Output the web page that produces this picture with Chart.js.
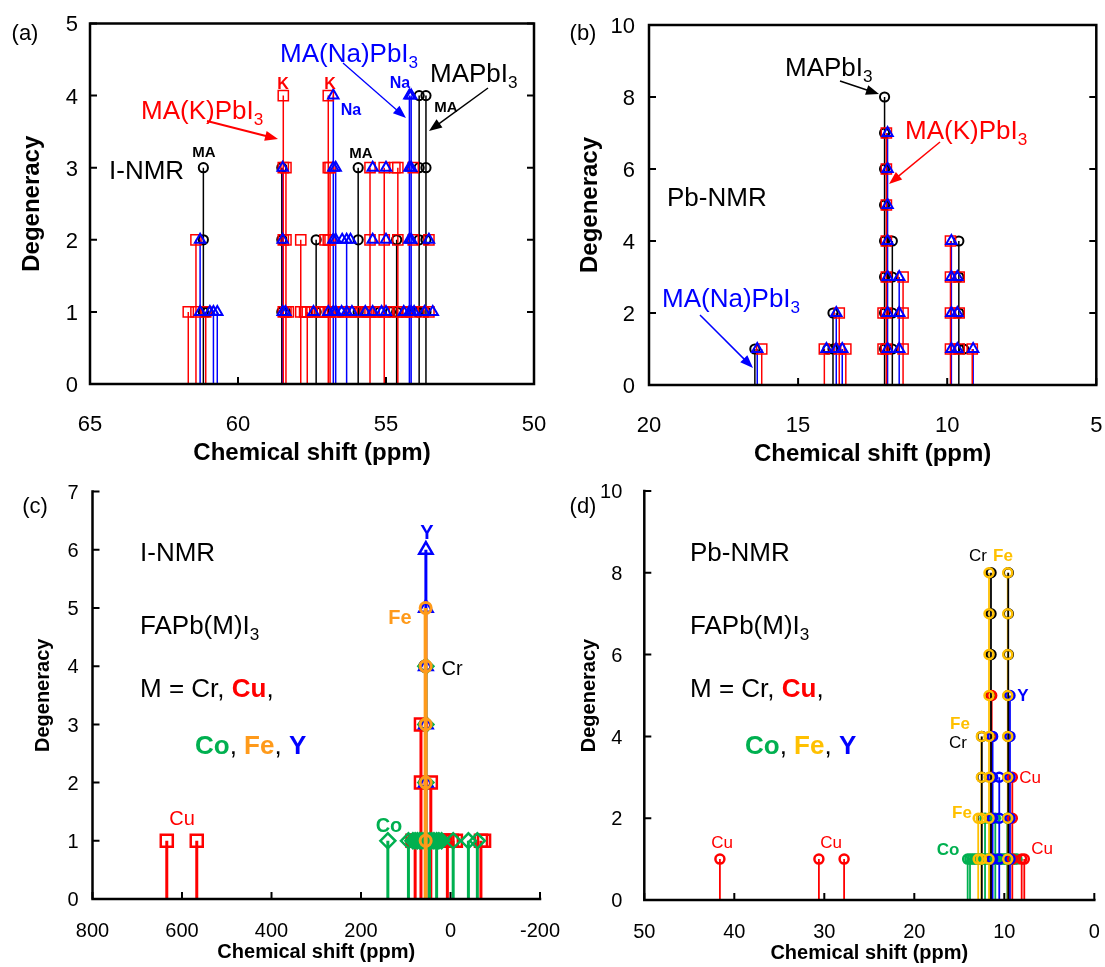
<!DOCTYPE html>
<html>
<head>
<meta charset="utf-8">
<script src="https://cdn.jsdelivr.net/npm/chart.js@4.4.0/dist/chart.umd.min.js"></script>
<style>
  body { margin: 0; background: #fff; }
  #wrap { position: relative; width: 1105px; height: 967px; }
  #wrap canvas { position: absolute; left: 0; top: 0; }
</style>
</head>
<body>
<div id="wrap">
  <canvas id="pa" width="1105" height="967"></canvas>
  <canvas id="pb" width="1105" height="967"></canvas>
  <canvas id="pc" width="1105" height="967"></canvas>
  <canvas id="pd" width="1105" height="967"></canvas>
</div>
<script>
// ---------- (a) I-NMR : MAPbI3 / MA(K)PbI3 / MA(Na)PbI3 ----------
const aTicksX = [65, 60, 55, 50];
const aTicksY = [0, 1, 2, 3, 4, 5];
const aMAx = [61.17, 58.52, 57.36, 55.94, 54.64, 53.88, 53.65];
const aMAh = [3, 3, 2, 3, 2, 4, 4];
const aMAdotX = [61.02, 58.40, 56.80, 56.55, 55.75, 55.20, 54.85, 54.30, 53.95];
const aMAdotY = [1, 1, 1, 1, 1, 1, 1, 1, 1];
const aKx = [61.68, 61.42, 61.09, 58.47, 58.38, 57.88, 57.66, 56.95, 56.89, 55.54, 55.06, 54.60];
const aKh = [1, 2, 1, 4, 3, 2, 1, 4, 3, 3, 3, 3];
const aKdotX = [58.30, 57.75, 57.50, 57.25, 57.15, 57.06, 57.06, 56.60, 56.45, 56.20, 56.05, 55.80, 55.65, 55.40, 55.25, 54.90, 54.45, 54.30, 54.08, 54.08, 54.08, 53.75, 53.55, 53.55, 54.70];
const aKdotY = [1, 1, 1, 1, 1, 1, 2, 1, 1, 1, 1, 1, 1, 1, 1, 1, 1, 1, 1, 2, 3, 1, 1, 2, 3];
const aNaX = [61.28, 60.83, 60.70, 58.49, 56.78, 56.70, 56.33, 54.21, 54.15];
const aNah = [2, 1, 1, 3, 4, 3, 2, 4, 4];
const aNadotX = [60.95, 58.40, 57.45, 56.95, 56.50, 56.48, 56.15, 56.20, 55.70, 55.45, 55.45, 55.45, 55.15, 55.00, 55.00, 55.00, 54.40, 54.05, 53.70, 53.55, 53.42];
const aNadotY = [1, 1, 1, 1, 1, 2, 1, 2, 1, 1, 2, 3, 1, 1, 2, 3, 1, 1, 1, 2, 1];

// ---------- (b) Pb-NMR ----------
const bTicksX = [20, 15, 10, 5];
const bTicksY = [0, 2, 4, 6, 8, 10];
const bMAx = [16.45, 13.83, 12.10, 11.84, 9.61];
const bMAh = [1, 2, 8, 4, 4];
const bMAdotX = [14.00, 9.45];
const bMAdotY = [1, 1];
const bKx = [16.22, 14.12, 13.62, 13.40, 12.04, 11.48, 9.89, 9.16];
const bKh = [1, 1, 2, 1, 7, 3, 4, 1];
const bKdotX = [9.60, 9.60, 9.60, 12.15, 12.15];
const bKdotY = [1, 2, 3, 1, 2];
const bNax = [16.37, 13.72, 13.52, 12.00, 11.61, 9.86, 9.13];
const bNah = [1, 2, 1, 7, 3, 4, 1];
const bNadotX = [14.05, 9.66, 9.66, 9.66];
const bNadotY = [1, 1, 2, 3];

// ---------- (c) I-NMR FAPb(M)I3 ----------
const cTicksX = [800, 600, 400, 200, 0, -200];
const cTicksY = [0, 1, 2, 3, 4, 5, 6, 7];
const cCrX = [57];
const cCrH = [4];
const cCuX = [634, 567, 79, 66, 44, 7, -68];
const cCuH = [1, 1, 1, 3, 2, 1, 1];
const cCudotX = [85, 74, 60, 52, 36, 28, 18, 12, -3, -12, -75];
const cCudotY = [1, 1, 1, 1, 1, 1, 1, 1, 1, 1, 1];
const cCoX = [140, 94, 55, 47, 31, -6, -40, -60];
const cCoH = [1, 1, 4, 1, 1, 1, 1, 1];
const cCodotX = [84, 79, 74, 69, 64, 59, 52, 42, 37, 26, 20];
const cCodotY = [1, 1, 1, 1, 1, 1, 1, 1, 1, 1, 1];
const cFeX = [55.5];
const cFeH = [5];
const cYX = [55];
const cYH = [6];

// ---------- (d) Pb-NMR FAPb(M)I3 ----------
const dTicksX = [50, 40, 30, 20, 10, 0];
const dTicksY = [0, 2, 4, 6, 8, 10];
const dCrX = [12.5, 11.48, 9.56];
const dCrH = [4, 8, 8];
const dFeX = [12.9, 12.55, 11.7, 9.62];
const dFeH = [2, 4, 8, 8];
const dCuX = [41.6, 30.6, 27.8, 11.4, 9.11, 8.07, 7.78];
const dCuH = [1, 1, 1, 5, 3, 1, 1];
const dYX = [11.3, 10.56, 9.37];
const dYH = [4, 3, 5];
const dCoX = [14.07, 13.81, 12.14, 11.6, 11.0, 9.67];
const dCoH = [1, 1, 2, 2, 2, 2];
const dCodotX = [13.55, 13.3, 13.05, 12.8, 12.55, 12.3, 11.85, 11.3, 10.75, 10.5, 10.25, 10.0, 9.8, 9.4, 9.15, 8.9, 8.6];
const dCodotY = [1, 1, 1, 1, 1, 1, 1, 1, 1, 1, 1, 1, 1, 1, 1, 1, 1];

const W = 1105, H = 967;
const FONT = '"Liberation Sans", Arial, sans-serif';
const RED = '#ff0000', BLUE = '#0000ff', BLACK = '#000000', GREEN = '#00b050';
const ORANGE = '#ff9a1a', GOLD = '#ffc000';

function stemData(xs, hs) {
  const d = [];
  xs.forEach((x, i) => { d.push({x: x, y: 0}, {x: x, y: hs[i]}, {x: x, y: null}); });
  return d;
}
function markData(xs, hs, dx, dy) {
  const d = [];
  xs.forEach((x, i) => { for (let k = 1; k <= hs[i]; k++) d.push({x: x, y: k}); });
  (dx || []).forEach((x, i) => d.push({x: x, y: dy[i]}));
  return d;
}
function stems(xs, hs, color, w) {
  return { type: 'line', data: stemData(xs, hs), borderColor: color, borderWidth: w,
    pointRadius: 0, spanGaps: false, fill: false, tension: 0 };
}
function marks(xs, hs, dx, dy, color, style, r, bw) {
  return { type: 'scatter', data: markData(xs, hs, dx, dy), pointStyle: style,
    pointRadius: r, pointHoverRadius: r, borderColor: color,
    backgroundColor: 'rgba(0,0,0,0)', borderWidth: bw };
}

// text helpers
function rich(ctx, x, y, parts, size, align, weight) {
  ctx.save();
  ctx.textBaseline = 'alphabetic';
  const base = y + size * 0.36;
  let total = 0;
  parts.forEach(p => {
    const s = p[2] === 'sub' ? size * 0.66 : size;
    ctx.font = (p[3] || weight || 'normal') + ' ' + s + 'px ' + FONT;
    total += ctx.measureText(p[0]).width;
  });
  let cx = align === 'center' ? x - total / 2 : (align === 'right' ? x - total : x);
  parts.forEach(p => {
    const sub = p[2] === 'sub';
    const s = sub ? size * 0.66 : size;
    ctx.font = (p[3] || weight || 'normal') + ' ' + s + 'px ' + FONT;
    ctx.fillStyle = p[1];
    ctx.textAlign = 'left';
    ctx.fillText(p[0], cx, sub ? base + size * 0.22 : base);
    cx += ctx.measureText(p[0]).width;
  });
  ctx.restore();
}
function label(ctx, s, x, y, color, size, weight) {
  rich(ctx, x, y, [[s, color]], size, 'center', weight);
}
function arrow(ctx, x1, y1, x2, y2, color, w) {
  const ang = Math.atan2(y2 - y1, x2 - x1), hl = 13, hw = 5;
  ctx.save();
  ctx.strokeStyle = color; ctx.fillStyle = color; ctx.lineWidth = w;
  ctx.beginPath();
  ctx.moveTo(x1, y1);
  ctx.lineTo(x2 - Math.cos(ang) * hl * 0.8, y2 - Math.sin(ang) * hl * 0.8);
  ctx.stroke();
  ctx.beginPath();
  ctx.moveTo(x2, y2);
  ctx.lineTo(x2 - Math.cos(ang) * hl + Math.sin(ang) * hw, y2 - Math.sin(ang) * hl - Math.cos(ang) * hw);
  ctx.lineTo(x2 - Math.cos(ang) * hl - Math.sin(ang) * hw, y2 - Math.sin(ang) * hl + Math.cos(ang) * hw);
  ctx.closePath();
  ctx.fill();
  ctx.restore();
}

// frame, inward ticks, tick labels and titles
function axes(c, o) {
  const ctx = c.ctx, a = c.chartArea, sx = c.scales.x, sy = c.scales.y;
  ctx.save();
  ctx.strokeStyle = BLACK;
  ctx.lineWidth = 2.5;
  ctx.lineCap = 'square';
  ctx.beginPath();
  if (o.box) {
    ctx.rect(a.left, a.top, a.right - a.left, a.bottom - a.top);
  } else {
    ctx.moveTo(a.left, a.top);
    ctx.lineTo(a.left, a.bottom);
    ctx.lineTo(a.right, a.bottom);
  }
  ctx.stroke();
  ctx.lineWidth = 2;
  ctx.lineCap = 'butt';
  ctx.beginPath();
  o.tx.forEach(t => {
    const p = sx.getPixelForValue(t);
    ctx.moveTo(p, a.bottom); ctx.lineTo(p, a.bottom - 7);
  });
  o.ty.forEach(t => {
    const p = sy.getPixelForValue(t);
    ctx.moveTo(a.left, p); ctx.lineTo(a.left + 7, p);
    if (o.box) { ctx.moveTo(a.right, p); ctx.lineTo(a.right - 7, p); }
  });
  ctx.stroke();
  ctx.restore();
  o.tx.forEach(t => rich(ctx, sx.getPixelForValue(t), a.bottom + o.xGap, [[String(t), BLACK]], o.tickSize, 'center'));
  o.ty.forEach(t => rich(ctx, a.left - o.yGap, sy.getPixelForValue(t), [[String(t), BLACK]], o.tickSize, 'right'));
  rich(ctx, (a.left + a.right) / 2 + (o.xtOff || 0), a.bottom + o.xtGap, [['Chemical shift (ppm)', BLACK]], o.titleSize, 'center', 'bold');
  ctx.save();
  ctx.translate(o.ytX, (a.top + a.bottom) / 2);
  ctx.rotate(-Math.PI / 2);
  rich(ctx, 0, 0, [['Degeneracy', BLACK]], o.titleSize, 'center', 'bold');
  ctx.restore();
  rich(ctx, o.tag[1], o.tag[2], [[o.tag[0], BLACK]], o.tagSize, 'center');
}

function panel(id, area, xr, yr, datasets, deco) {
  new Chart(document.getElementById(id), {
    type: 'scatter',
    data: { datasets: datasets },
    options: {
      responsive: false,
      animation: false,
      events: [],
      layout: { padding: { left: area[0], top: area[1], right: W - area[2], bottom: H - area[3] } },
      plugins: { legend: { display: false }, tooltip: { enabled: false } },
      scales: {
        x: { type: 'linear', min: Math.min(xr[0], xr[1]), max: Math.max(xr[0], xr[1]), reverse: true, display: false },
        y: { type: 'linear', min: yr[0], max: yr[1], display: false }
      }
    },
    plugins: [{ id: 'deco', afterDraw: deco }]
  });
}

// (a)
panel('pa', [90, 23.5, 534, 384], [65, 50], [0, 5], [
  marks(aNaX, aNah, aNadotX, aNadotY, BLUE, 'triangle', 6, 2),
  marks(aKx, aKh, aKdotX, aKdotY, RED, 'rect', 7.2, 1.5),
  marks(aMAx, aMAh, aMAdotX, aMAdotY, BLACK, 'circle', 4.6, 2),
  stems(aKx, aKh, RED, 1.5),
  stems(aNaX, aNah, BLUE, 1.5),
  stems(aMAx, aMAh, BLACK, 1.5)
], c => {
  const ctx = c.ctx;
  axes(c, { box: true, tx: aTicksX, ty: aTicksY, tickSize: 22, xGap: 39, yGap: 12,
    titleSize: 24, xtGap: 67, ytX: 30, tag: ['(a)', 25, 32], tagSize: 22 });
  rich(ctx, 109, 170, [['I-NMR', BLACK]], 26, 'left');
  rich(ctx, 141, 110, [['MA(K)PbI', RED], ['3', RED, 'sub']], 26, 'left');
  arrow(ctx, 207, 121, 278, 139, RED, 2);
  label(ctx, 'K', 283, 83, RED, 16, 'bold');
  label(ctx, 'K', 330, 83, RED, 16, 'bold');
  rich(ctx, 280, 53, [['MA(Na)PbI', BLUE], ['3', BLUE, 'sub']], 26, 'left');
  arrow(ctx, 343, 63, 406, 118, BLUE, 1.3);
  label(ctx, 'Na', 351, 109, BLUE, 16, 'bold');
  label(ctx, 'Na', 400, 82, BLUE, 16, 'bold');
  rich(ctx, 430, 73, [['MAPbI', BLACK], ['3', BLACK, 'sub']], 26, 'left');
  arrow(ctx, 488, 88, 429, 131, BLACK, 1.5);
  label(ctx, 'MA', 446, 107, BLACK, 15, 'bold');
  label(ctx, 'MA', 204, 152, BLACK, 15, 'bold');
  label(ctx, 'MA', 361, 153, BLACK, 15, 'bold');
});

// (b)
panel('pb', [649, 25, 1097, 385], [20, 5], [0, 10], [
  marks(bNax, bNah, bNadotX, bNadotY, BLUE, 'triangle', 6, 2),
  marks(bKx, bKh, bKdotX, bKdotY, RED, 'rect', 7.2, 1.5),
  marks(bMAx, bMAh, bMAdotX, bMAdotY, BLACK, 'circle', 4.6, 2),
  stems(bKx, bKh, RED, 1.5),
  stems(bNax, bNah, BLUE, 1.5),
  stems(bMAx, bMAh, BLACK, 1.5)
], c => {
  const ctx = c.ctx;
  axes(c, { box: true, tx: bTicksX, ty: bTicksY, tickSize: 22, xGap: 39, yGap: 14,
    titleSize: 24, xtGap: 67, ytX: 588, tag: ['(b)', 583, 32], tagSize: 22 });
  rich(ctx, 667, 197, [['Pb-NMR', BLACK]], 26, 'left');
  rich(ctx, 662, 298, [['MA(Na)PbI', BLUE], ['3', BLUE, 'sub']], 26, 'left');
  arrow(ctx, 700, 315, 753, 368, BLUE, 1.5);
  rich(ctx, 785, 67, [['MAPbI', BLACK], ['3', BLACK, 'sub']], 26, 'left');
  arrow(ctx, 840, 81, 879, 94, BLACK, 1.5);
  rich(ctx, 905, 130, [['MA(K)PbI', RED], ['3', RED, 'sub']], 26, 'left');
  arrow(ctx, 940, 142, 889, 184, RED, 1.5);
});

// (c)
panel('pc', [92.5, 491.6, 540, 899], [800, -200], [0, 7], [
  stems(cFeX, cFeH, ORANGE, 4),
  marks(cFeX, cFeH, [], [], ORANGE, 'circle', 5.5, 3),
  marks(cCoX, cCoH, cCodotX, cCodotY, GREEN, 'rectRot', 7.5, 2.5),
  marks(cYX, cYH, [], [], BLUE, 'triangle', 7.7, 2.5),
  marks(cCuX, cCuH, cCudotX, cCudotY, RED, 'rect', 8.5, 2.5),
  marks(cCrX, cCrH, [], [], BLACK, 'circle', 5.5, 2.5),
  stems(cCoX, cCoH, GREEN, 3),
  stems(cCuX, cCuH, RED, 3),
  stems(cYX, cYH, BLUE, 3),
  stems(cCrX, cCrH, BLACK, 2)
], c => {
  const ctx = c.ctx;
  axes(c, { box: false, tx: cTicksX, ty: cTicksY, tickSize: 20, xGap: 31, yGap: 14,
    titleSize: 20, xtGap: 52, ytX: 42, tag: ['(c)', 35, 505], tagSize: 22 });
  rich(ctx, 140, 552, [['I-NMR', BLACK]], 26, 'left');
  rich(ctx, 140, 625, [['FAPb(M)I', BLACK], ['3', BLACK, 'sub']], 26, 'left');
  rich(ctx, 140, 688, [['M = Cr, ', BLACK], ['Cu', RED, '', 'bold'], [',', BLACK]], 26, 'left');
  rich(ctx, 195, 745, [['Co', GREEN, '', 'bold'], [', ', BLACK], ['Fe', ORANGE, '', 'bold'], [', ', BLACK], ['Y', BLUE, '', 'bold']], 26, 'left');
  label(ctx, 'Y', 427, 532, BLUE, 20, 'bold');
  label(ctx, 'Fe', 400, 617, ORANGE, 20, 'bold');
  label(ctx, 'Cr', 452, 668, BLACK, 20);
  label(ctx, 'Co', 389, 825, GREEN, 20, 'bold');
  label(ctx, 'Cu', 182, 818, RED, 20);
});

// (d)
panel('pd', [644.3, 491, 1094.3, 900], [50, 0], [0, 10], [
  marks(dFeX, dFeH, [], [], GOLD, 'circle', 4.5, 2.5),
  marks(dYX, dYH, [], [], BLUE, 'circle', 4.5, 2.5),
  marks(dCuX, dCuH, [], [], RED, 'circle', 4.5, 2.5),
  marks(dCoX, dCoH, dCodotX, dCodotY, GREEN, 'circle', 4.5, 2.5),
  marks(dCrX, dCrH, [], [], BLACK, 'circle', 4.5, 2.5),
  stems(dCrX, dCrH, BLACK, 1.8),
  stems(dFeX, dFeH, GOLD, 1.8),
  stems(dYX, dYH, BLUE, 1.8),
  stems(dCuX, dCuH, RED, 1.8),
  stems(dCoX, dCoH, GREEN, 1.8)
], c => {
  const ctx = c.ctx;
  axes(c, { box: false, tx: dTicksX, ty: dTicksY, tickSize: 20, xGap: 31, yGap: 22,
    titleSize: 20, xtGap: 52, ytX: 588, tag: ['(d)', 583, 505], tagSize: 22 });
  rich(ctx, 690, 552, [['Pb-NMR', BLACK]], 26, 'left');
  rich(ctx, 690, 625, [['FAPb(M)I', BLACK], ['3', BLACK, 'sub']], 26, 'left');
  rich(ctx, 690, 688, [['M = Cr, ', BLACK], ['Cu', RED, '', 'bold'], [',', BLACK]], 26, 'left');
  rich(ctx, 745, 745, [['Co', GREEN, '', 'bold'], [', ', BLACK], ['Fe', GOLD, '', 'bold'], [', ', BLACK], ['Y', BLUE, '', 'bold']], 26, 'left');
  label(ctx, 'Cr', 978, 555, BLACK, 17);
  label(ctx, 'Fe', 1003, 555, GOLD, 17, 'bold');
  label(ctx, 'Y', 1023, 695, BLUE, 17, 'bold');
  label(ctx, 'Fe', 960, 723, GOLD, 17, 'bold');
  label(ctx, 'Cr', 958, 742, BLACK, 17);
  label(ctx, 'Cu', 1030, 777, RED, 17);
  label(ctx, 'Fe', 962, 812, GOLD, 17, 'bold');
  label(ctx, 'Co', 948, 849, GREEN, 17, 'bold');
  label(ctx, 'Cu', 1042, 848, RED, 17);
  label(ctx, 'Cu', 722, 842, RED, 17);
  label(ctx, 'Cu', 831, 842, RED, 17);
});
</script>
</body>
</html>
